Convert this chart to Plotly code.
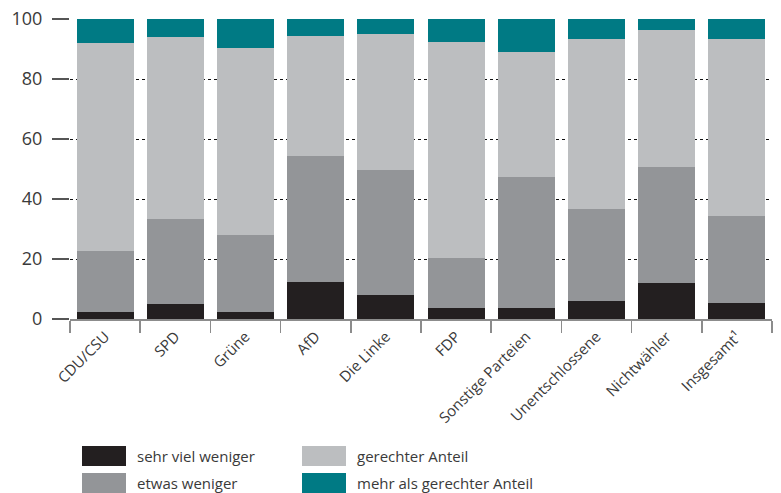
import plotly.graph_objects as go

categories = ["CDU/CSU", "SPD", "Grüne", "AfD", "Die Linke", "FDP",
              "Sonstige Parteien", "Unentschlossene", "Nichtwähler", "Insgesamt¹"]

sehr_viel_weniger = [2.5, 4.9, 2.2, 12.3, 7.9, 3.6, 3.6, 5.9, 11.9, 5.2]
etwas_weniger     = [20.1, 28.4, 25.8, 42.1, 41.8, 16.7, 43.7, 30.8, 38.8, 29.1]
gerechter_anteil  = [69.3, 60.6, 62.2, 39.8, 45.2, 71.9, 41.6, 56.8, 45.5, 58.9]
mehr_als_gerecht  = [8.1, 6.1, 9.8, 5.8, 5.1, 7.8, 11.1, 6.5, 3.8, 6.8]

series_names = ["sehr viel weniger", "etwas weniger", "gerechter Anteil",
                "mehr als gerechter Anteil"]
series_values = [sehr_viel_weniger, etwas_weniger, gerechter_anteil, mehr_als_gerecht]
colors = ["#231f20", "#939598", "#bcbec0", "#007a84"]

y_ticks = [0, 20, 40, 60, 80, 100]

FONT = "Open Sans"
TXT = "#3a3a3a"

W, H = 781, 493
ML, MR, MT, MB = 70, 9, 19, 174
PW, PH = W - ML - MR, H - MT - MB

fig = go.Figure()
for name, vals, col in zip(series_names, series_values, colors):
    fig.add_trace(go.Bar(x=categories, y=vals, name=name,
                         marker=dict(color=col, line=dict(width=0)),
                         showlegend=False))

def px_x(p):
    return (p - ML) / PW

def px_y(p):
    return (H - MB - p) / PH

# manual legend (two columns, two rows)
shapes = []
annotations = []
col_x = [82, 302]
row_y = [446, 473]
for i, (name, col) in enumerate(zip(series_names, colors)):
    c, r = i // 2, i % 2
    x0, y0 = col_x[c], row_y[r]
    shapes.append(dict(type="rect", xref="paper", yref="paper",
                       x0=px_x(x0), x1=px_x(x0 + 44),
                       y0=px_y(y0), y1=px_y(y0 + 20),
                       fillcolor=col, line=dict(width=0), layer="above"))
    annotations.append(dict(xref="paper", yref="paper", x=px_x(x0 + 53),
                            y=px_y(y0 + 10), text=name, showarrow=False,
                            xanchor="left", yanchor="middle",
                            font=dict(family=FONT, size=15, color=TXT)))

fig.update_layout(
    width=W, height=H,
    margin=dict(l=ML, r=MR, t=MT, b=MB, autoexpand=False),
    paper_bgcolor="white", plot_bgcolor="white",
    barmode="stack", bargap=0.19,
    showlegend=False,
    shapes=shapes, annotations=annotations,
    font=dict(family=FONT, color=TXT),
    xaxis=dict(
        type="category", automargin=False,
        showline=True, linecolor="#8c8c8c", linewidth=2,
        ticks="outside", tickson="boundaries", ticklen=12,
        tickcolor="#8c8c8c", tickwidth=1.5,
        tickangle=-45, ticklabelstandoff=1,
        tickfont=dict(family=FONT, size=15, color=TXT),
        showgrid=False, zeroline=False,
    ),
    yaxis=dict(
        range=[0, 100], tickvals=y_ticks, automargin=False,
        ticks="outside", ticklen=17, tickcolor="#555555", tickwidth=1.5,
        ticklabelstandoff=6,
        tickfont=dict(family=FONT, size=18, color=TXT),
        showgrid=True, gridcolor="#111111", gridwidth=1, griddash="3px,3px",
        zeroline=False, showline=False,
    ),
)

fig.write_html("out.html",
               config={"displayModeBar": False, "staticPlot": True},
               post_script="document.body.style.margin='0';document.body.style.overflow='hidden';")
